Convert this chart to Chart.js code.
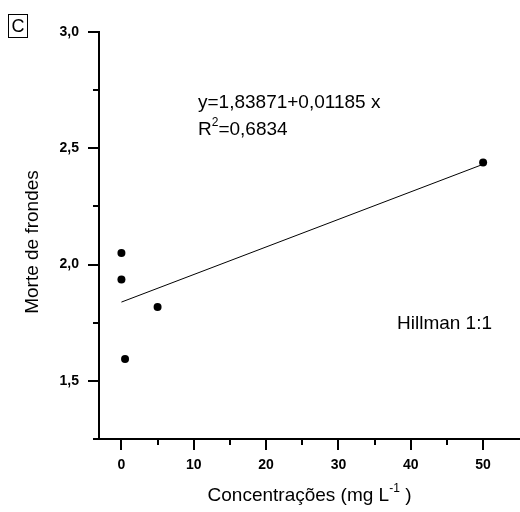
<!DOCTYPE html>
<html>
<head>
<meta charset="utf-8">
<title>Morte de frondes - Hillman 1:1</title>
<script src="https://cdn.jsdelivr.net/npm/chart.js@4.4.1/dist/chart.umd.min.js"></script>
<style>
  html, body { margin: 0; padding: 0; background: #fff; }
  #grafico { display: block; }
</style>
</head>
<body>
<canvas id="grafico" width="520" height="512"></canvas>
<script>
// dados observados
const concentracoes = [0, 0, 0.5, 5, 50];
const morteFrondes = [2.05, 1.936, 1.594, 1.818, 2.439];

// ajuste linear y = a + b x
const intercepto = 1.83871;
const inclinacao = 0.01185;
const r2 = 0.6834;
const faixaAjuste = [0, 50];

// marcas dos eixos
const ticksX = [0, 10, 20, 30, 40, 50];
const ticksXMenores = [5, 15, 25, 35, 45];
const ticksY = [1.5, 2.0, 2.5, 3.0];
const ticksYMenores = [1.25, 1.75, 2.25, 2.75];

const virgula = (n, casas) => n.toFixed(casas).replace('.', ',');

const fonte = '"Liberation Sans", Arial, sans-serif';

const pontos = concentracoes.map((x, i) => ({ x: x, y: morteFrondes[i] }));
const reta = faixaAjuste.map(x => ({ x: x, y: intercepto + inclinacao * x }));

// marcas menores, textos e titulos dos eixos
const extras = {
  id: 'extras',
  afterDraw(chart) {
    const ctx = chart.ctx;
    const sx = chart.scales.x;
    const sy = chart.scales.y;
    const area = chart.chartArea;
    ctx.save();
    ctx.strokeStyle = '#000';
    ctx.lineWidth = 2;
    ctx.beginPath();
    ticksXMenores.forEach(v => {
      const px = Math.round(sx.getPixelForValue(v));
      ctx.moveTo(px, area.bottom);
      ctx.lineTo(px, area.bottom + 6);
    });
    ticksYMenores.forEach(v => {
      const py = Math.round(sy.getPixelForValue(v));
      ctx.moveTo(area.left, py);
      ctx.lineTo(area.left - 6, py);
    });
    ctx.stroke();

    ctx.fillStyle = '#000';
    ctx.textBaseline = 'alphabetic';
    ctx.textAlign = 'left';

    // equacao e R²
    ctx.font = '19px ' + fonte;
    ctx.fillText('y=' + virgula(intercepto, 5) + '+' + virgula(inclinacao, 5) + ' x', 198, 108);
    ctx.fillText('R', 198, 135);
    let w = ctx.measureText('R').width;
    ctx.font = '12px ' + fonte;
    ctx.fillText('2', 198 + w, 126);
    const w2 = ctx.measureText('2').width;
    ctx.font = '19px ' + fonte;
    ctx.fillText('=' + virgula(r2, 4), 198 + w + w2, 135);

    ctx.fillText('Hillman 1:1', 397, 329);

    // titulo do eixo x com expoente
    const partes = [
      { t: 'Concentrações (mg L', f: '19px ', dy: 0 },
      { t: '-1', f: '12px ', dy: -9 },
      { t: ' )', f: '19px ', dy: 0 }
    ];
    let total = 0;
    partes.forEach(p => { ctx.font = p.f + fonte; p.w = ctx.measureText(p.t).width; total += p.w; });
    let x0 = (area.left + area.right) / 2 - total / 2;
    partes.forEach(p => {
      ctx.font = p.f + fonte;
      ctx.fillText(p.t, x0, 501 + p.dy);
      x0 += p.w;
    });

    // titulo do eixo y
    ctx.save();
    ctx.translate(38, 242);
    ctx.rotate(-Math.PI / 2);
    ctx.font = '19px ' + fonte;
    ctx.textAlign = 'center';
    ctx.fillText('Morte de frondes', 0, 0);
    ctx.restore();

    // letra do painel
    ctx.lineWidth = 1;
    ctx.strokeRect(8.5, 14.5, 19, 23);
    ctx.font = '18px ' + fonte;
    ctx.textAlign = 'center';
    ctx.fillText('C', 18, 32);
    ctx.restore();
  }
};

const ctx = document.getElementById('grafico');
const grafico = new Chart(ctx, {
  type: 'scatter',
  data: {
    datasets: [
      {
        label: 'Morte de frondes',
        data: pontos,
        pointRadius: 4,
        pointBackgroundColor: '#000',
        pointBorderWidth: 0,
        showLine: false,
        clip: false
      },
      {
        label: 'Ajuste',
        data: reta,
        type: 'line',
        showLine: true,
        borderColor: '#000',
        borderWidth: 1,
        pointRadius: 0,
        fill: false
      }
    ]
  },
  options: {
    responsive: false,
    animation: false,
    layout: { autoPadding: false, padding: { top: 32, right: 0, bottom: 0, left: 0 } },
    plugins: {
      legend: { display: false },
      tooltip: { enabled: false }
    },
    scales: {
      x: {
        type: 'linear',
        min: -3.1,
        max: 55.1,
        afterBuildTicks: s => { s.ticks = ticksX.map(v => ({ value: v })); },
        afterFit: s => { s.height = 73; s.paddingLeft = 0; s.paddingRight = 0; },
        border: { display: true, color: '#000', width: 2 },
        grid: { drawOnChartArea: false, drawTicks: true, tickLength: 11, color: '#000', lineWidth: 2 },
        ticks: {
          color: '#000',
          padding: 7,
          maxRotation: 0,
          font: { family: fonte, size: 14, weight: 'bold' },
          callback: v => String(v)
        }
      },
      y: {
        type: 'linear',
        min: 1.25,
        max: 3.0,
        afterBuildTicks: s => { s.ticks = ticksY.map(v => ({ value: v })); },
        afterFit: s => { s.width = 99; },
        border: { display: true, color: '#000', width: 2 },
        grid: { drawOnChartArea: false, drawTicks: true, tickLength: 11, color: '#000', lineWidth: 2 },
        ticks: {
          color: '#000',
          padding: 9,
          font: { family: fonte, size: 14, weight: 'bold' },
          callback: v => virgula(v, 1)
        }
      }
    }
  },
  plugins: [extras]
});
</script>
</body>
</html>
